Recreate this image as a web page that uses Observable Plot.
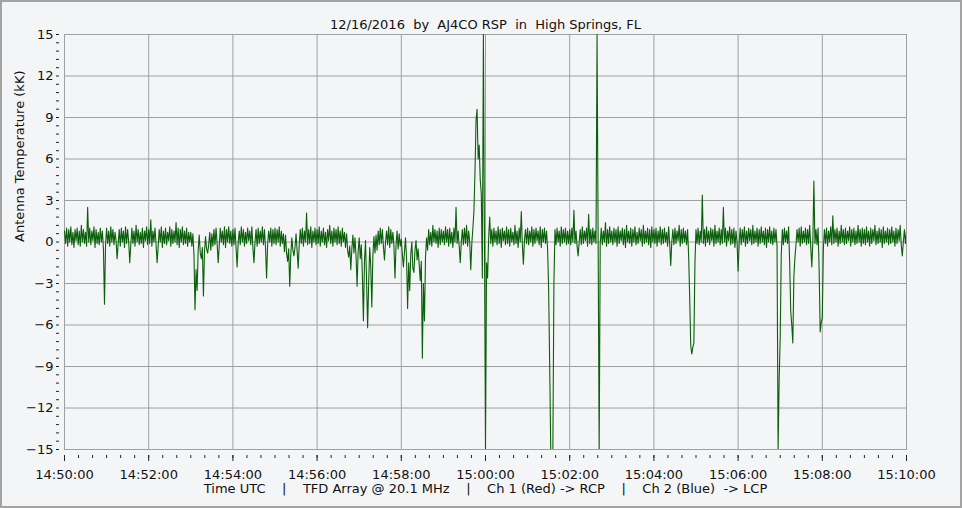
<!DOCTYPE html>
<html>
<head>
<meta charset="utf-8">
<script src="https://cdn.jsdelivr.net/npm/d3@7"></script>
<script src="https://cdn.jsdelivr.net/npm/@observablehq/plot@0.6"></script>
<style>
  html, body { margin: 0; padding: 0; background: #f4f5f7; }
  #wrap { position: relative; width: 962px; height: 508px; overflow: hidden; background: #f4f5f7; }
  #wrap svg { position: absolute; left: 0; top: 0; }
  #border { position: absolute; left: 0; top: 0; width: 962px; height: 508px; box-sizing: border-box;
            border: 2px solid #a3a3a3; pointer-events: none; }
</style>
</head>
<body>
<div id="wrap"><div id="border"></div></div>
<script>
// ---- Chart text ----
const titleText = "12/16/2016  by  AJ4CO RSP  in  High Springs, FL";
const footerText = "Time UTC    |    TFD Array @ 20.1 MHz    |    Ch 1 (Red) -> RCP    |    Ch 2 (Blue)  -> LCP";
const yLabelText = "Antenna Temperature (kK)";

// ---- Axis ticks ----
const yTicks = [-15, -12, -9, -6, -3, 0, 3, 6, 9, 12, 15];
const xTickLabels = ["14:50:00", "14:52:00", "14:54:00", "14:56:00", "14:58:00", "15:00:00",
                     "15:02:00", "15:04:00", "15:06:00", "15:08:00", "15:10:00"];

// ---- Sampling ----
const startTime = Date.UTC(2016, 11, 16, 14, 50, 0);
const endTime = Date.UTC(2016, 11, 16, 15, 10, 0);
const sampleSeconds = 1.5;

// ---- Antenna temperature (kK), one sample every 1.5 s, one row per minute ----
const antennaTemp = [
  0.8, -0.1, 1.0, -0.3, 0.9, 0.0, 1.1, -0.2, 0.7, -0.4, 0.9, 0.1, 1.0, -0.2, 0.8, -0.3, 1.2, 0.0, 0.9, -0.1, 0.7, -0.3, 2.5, 0.0, 1.0, -0.2, 0.8, 0.1, 1.1, -0.4, 0.9, -0.1, 0.7, -0.2, 1.0, 0.0, 0.8, -0.5, -4.5, -0.2,
  1.0, -0.1, 0.8, -0.3, 1.1, 0.0, 0.9, -0.2, 0.7, 0.1, -1.2, -0.1, 0.9, -0.3, 1.0, 0.0, 0.8, -0.4, 1.1, -0.1, 0.9, 0.0, -1.5, -0.2, 1.0, -0.1, 0.8, -0.3, 1.2, 0.0, 0.9, -0.2, 0.7, -0.1, 1.0, -0.4, 0.8, 0.1, 1.1, -0.2,
  0.9, -0.1, 1.6, -0.3, 0.8, 0.0, 1.0, -0.2, -1.5, -0.3, 0.9, 0.0, 1.1, -0.4, 0.8, -0.1, 1.0, -0.2, 0.7, 0.1, 1.1, -0.3, 0.9, -0.1, 0.8, 0.0, 1.4, -0.2, 1.0, -0.4, 0.9, 0.0, 1.1, -0.2, 0.8, -0.1, 1.0, -0.3, 0.7, 0.0,
  0.7, -0.3, 0.6, -0.9, -4.9, -2.0, -3.5, -0.6, 0.5, -0.8, -1.2, -0.4, -3.9, -0.7, 0.4, -0.5, -0.8, -0.2, 0.7, -0.6, 0.6, -0.3, 0.9, -0.2, 1.0, -0.1, -1.5, -0.3, 1.0, 0.0, 0.8, -0.2, 1.1, -0.4, 0.9, 0.0, 1.1, -0.1, 0.8, -0.3,
  0.9, -0.2, 1.0, -0.4, -1.8, -0.1, 0.8, -0.2, 1.1, 0.0, 0.9, -0.3, 0.7, -0.1, 1.0, 0.1, 0.8, -0.2, 1.1, -0.4, -1.5, 0.0, 0.9, -0.3, 1.0, -0.1, 0.8, 0.0, 1.1, -0.2, 0.9, -0.4, -2.6, -0.2, 0.8, 0.0, 1.0, -0.3, 0.9, -0.1,
  1.0, -0.2, 0.9, 0.0, 1.1, -0.3, 0.8, -0.1, 0.6, -0.7, 0.5, -0.8, -1.4, -0.5, -3.2, -0.9, 0.3, -0.6, -1.0, -0.4, 0.6, -0.6, -1.9, -0.2, 0.9, -0.1, 1.0, -0.3, 0.8, 0.0, 2.1, -0.2, 0.9, -0.1, 1.1, -0.4, 0.8, 0.0, 1.0, -0.2,
  0.9, -0.1, 1.1, -0.3, 0.8, 0.0, 1.0, -0.2, 0.7, -0.4, 0.9, 0.1, 1.2, -0.1, 0.8, -0.3, 1.0, 0.0, 0.9, -0.2, 1.1, -0.1, 0.8, -0.3, 1.0, 0.0, 0.7, -0.4, 0.6, -0.6, -1.1, -0.3, -2.0, -0.5, 0.5, -0.8, 0.3, -1.0, -3.2, -0.7,
  0.3, -1.2, -0.2, -2.4, -5.7, -1.4, 0.1, -2.8, -6.2, -3.0, -0.4, -1.8, -4.7, -1.0, 0.4, -0.8, 0.5, -0.6, 0.8, -0.2, 1.0, -0.1, 0.9, -0.3, -1.3, 0.0, 0.8, -0.2, 1.1, -0.4, 0.9, -0.1, 0.7, -0.3, -2.6, -0.2, 0.8, -0.5, 0.6, -0.3,
  0.2, -0.9, -1.8, -0.7, 0.3, -1.2, -4.8, -1.5, -3.5, -0.9, 0.0, -1.9, -2.2, -0.6, 0.1, -1.3, -0.5, -1.6, -2.8, -1.4, -8.4, -3.0, -5.7, -1.1, 0.3, -0.6, 0.9, -0.2, 0.7, -0.3, 1.2, 0.0, 0.9, -0.1, 0.8, -0.4, 1.0, -0.2, 0.9, 0.0,
  0.8, -0.2, 1.1, 0.0, 0.9, -0.3, 1.0, -0.1, 0.7, -0.4, 1.0, 0.0, 2.5, -0.1, 0.8, -0.3, -1.5, 0.0, 0.9, -0.2, 1.0, -0.1, 1.2, -0.3, 0.8, 0.0, -2.0, -0.1, 1.0, 2.2, 5.0, 8.8, 9.6, 6.0, 7.0, 4.5, 3.5, -2.6, 15, 0.5,
  -15, -1.5, -2.6, 0.3, 1.8, -0.1, 0.9, -0.3, 1.0, 0.0, 0.8, -0.2, 1.1, -0.1, 0.9, -0.4, 1.0, 0.1, 0.8, -0.2, 1.1, -0.1, 0.9, -0.3, 1.0, 0.0, 0.7, -0.2, 1.2, -0.1, 0.8, -0.4, 1.0, 0.0, 2.2, -0.2, -1.6, 0.1, 0.9, -0.1,
  1.0, -0.2, 0.8, 0.0, 1.1, -0.3, 0.9, -0.1, 1.0, 0.1, 0.8, -0.2, 1.1, -0.4, 0.9, 0.0, 1.0, -0.1, 0.8, -0.5, -3.5, -9.0, -15, -15, -15, -3.0, 0.9, -0.2, 1.0, 0.0, 0.8, -0.3, 1.1, -0.1, 0.9, 0.0, 1.0, -0.2, 0.8, -0.1,
  0.9, -0.2, 1.0, 0.0, 2.3, -0.1, 0.8, -0.3, -1.0, 0.0, 0.9, -0.2, 1.1, -0.1, 0.8, 0.1, 1.0, -0.3, 2.0, -0.1, 0.9, -0.2, 1.0, 0.0, 0.8, -0.1, 15, 0.4, -15, -0.1, 1.0, -0.2, 0.8, 0.0, 1.4, -0.3, 0.9, -0.1, 1.1, 0.0,
  0.8, -0.2, 1.0, 0.0, 0.9, -0.3, 1.1, -0.1, 0.8, 0.1, 1.0, -0.2, 0.9, -0.4, 1.2, 0.0, 0.8, -0.1, 1.0, -0.3, 0.9, 0.0, 1.1, -0.2, 0.7, -0.1, 1.0, 0.1, 0.9, -0.3, 1.2, -0.1, 0.8, 0.0, 1.0, -0.2, 0.9, -0.4, 1.1, 0.0,
  0.9, -0.1, 1.0, -0.3, 0.8, 0.0, 1.1, -0.2, 0.9, -0.1, 1.0, 0.0, 0.7, -0.3, 1.1, -0.1, -1.7, 0.0, 0.9, -0.2, 1.0, -0.1, 0.8, 0.1, 1.2, -0.3, 0.9, -0.1, 1.0, 0.0, 0.8, -0.2, 0.9, -1.0, -4.0, -7.5, -8.1, -7.6, -7.3, -1.5,
  0.9, -0.1, 1.0, -0.2, 0.8, 0.0, 3.4, -0.1, 0.9, -0.3, 1.1, 0.0, 0.8, -0.2, 1.0, 0.1, 0.9, -0.3, 1.2, -0.1, 0.8, 0.0, 1.0, -0.2, 0.9, -0.1, 2.5, 0.0, 1.0, -0.3, 0.8, 0.1, 1.1, -0.2, 0.9, -0.1, 1.0, -0.4, 0.8, 0.0,
  -2.1, -0.1, 1.0, -0.2, 0.9, 0.0, 1.1, -0.3, 0.8, -0.1, 1.0, 0.1, 0.9, -0.2, 1.2, -0.1, 0.8, 0.0, 1.0, -0.3, 0.9, -0.1, 1.1, 0.0, 0.8, -0.2, 1.0, -0.4, 0.9, 0.0, 1.1, -0.1, 0.8, -0.2, 1.0, 0.0, 0.9, -0.3, -15, -10,
  -6.9, -1.0, 0.9, -0.2, 1.0, 0.0, 0.8, -0.1, 1.1, -1.5, -5.0, -6.0, -7.3, -2.5, -1.1, -0.2, 0.9, 0.0, 1.0, -0.3, 1.1, -0.1, 0.8, 0.0, 1.0, -0.2, 0.9, -0.1, 1.2, -0.3, -1.8, 0.0, 4.4, -0.1, 0.9, -0.2, 1.0, -2.0, -6.5, -5.8,
  -5.5, -0.5, 0.9, -0.1, 1.0, -0.3, 0.8, 0.0, 1.1, -0.2, 1.9, -0.1, 0.9, 0.0, 1.0, -0.3, 0.8, -0.1, 1.2, 0.0, 0.9, -0.2, 1.0, -0.1, 0.8, 0.1, 1.1, -0.3, 0.9, 0.0, 1.0, -0.2, 0.8, -0.1, 1.2, 0.0, 0.9, -0.3, 1.0, -0.1,
  0.9, -0.2, 1.1, 0.0, 0.8, -0.3, 1.0, -0.1, 0.9, 0.1, 1.2, -0.2, 0.8, -0.1, 1.0, 0.0, 0.9, -0.4, 1.1, -0.1, 0.8, 0.0, 1.0, -0.2, 0.9, -0.1, 1.1, 0.0, 0.8, -0.3, 1.0, -0.1, 0.9, 0.1, 1.2, -0.2, -1.0, 0.0, 0.9, -0.1,
  0.8
];

const rows = antennaTemp.map((v, i) => ({ time: new Date(startTime + i * sampleSeconds * 1000), temp: v }));

const parseHMS = s => { const [h, m, sec] = s.split(":").map(Number); return new Date(Date.UTC(2016, 11, 16, h, m, sec)); };
const xMajor = xTickLabels.map(parseHMS);
const xMinor = d3.utcSecond.every(20).range(new Date(startTime), new Date(endTime + 1));
const yMinor = d3.range(-15, 15.001, 0.6).map(v => Math.round(v * 10) / 10);

const FONT = "DejaVu Sans, Verdana, sans-serif";
const chart = Plot.plot({
  width: 962,
  height: 508,
  marginTop: 34,
  marginLeft: 64,
  marginRight: 56,
  marginBottom: 59,
  style: { background: "transparent", fontFamily: FONT, fontSize: "13px", color: "#111", overflow: "visible" },
  x: { type: "utc", domain: [new Date(startTime), new Date(endTime)] },
  y: { domain: [-15, 15] },
  marks: [
    Plot.gridX({ ticks: xMajor, stroke: "#a0a0a0", strokeOpacity: 1 }),
    Plot.gridY({ ticks: yTicks, stroke: "#a0a0a0", strokeOpacity: 1 }),
    Plot.frame({ stroke: "#a0a0a0" }),
    Plot.line(rows, { x: "time", y: "temp", stroke: "#0a5f0a", strokeWidth: 1.1, clip: true }),
    // y axis: minor/major ticks offset left of the frame, plus labels
    Plot.axisY({ ticks: yMinor, tickSize: 3, dx: -5, text: null, stroke: "#222", label: null }),
    Plot.axisY({ ticks: yTicks, tickSize: 0, tickPadding: 11, label: null, fontSize: 13, fill: "#111" }),
    // x axis: ticks below the frame, plus labels
    Plot.axisX({ ticks: xMinor, tickSize: 3, dy: 6, text: null, stroke: "#222", label: null }),
    Plot.axisX({ ticks: xMajor, tickSize: 6, dy: 6, text: null, stroke: "#222", label: null }),
    Plot.axisX({ ticks: xMajor, tickSize: 0, tickPadding: 20, tickFormat: d3.utcFormat("%H:%M:%S"), label: null, fontSize: 13, fill: "#111" }),
    // texts
    Plot.text([yLabelText], { frameAnchor: "left", dx: -45, rotate: -90, text: d => d, fontSize: 13, fill: "#111" }),
    Plot.text([titleText], { frameAnchor: "top", dy: -15, text: d => d, fontSize: 13, fill: "#111" }),
    Plot.text([footerText], { frameAnchor: "bottom", dy: 43, text: d => d, fontSize: 13, fill: "#111" })
  ]
});
document.getElementById("wrap").insertBefore(chart, document.getElementById("border"));
</script>
</body>
</html>
